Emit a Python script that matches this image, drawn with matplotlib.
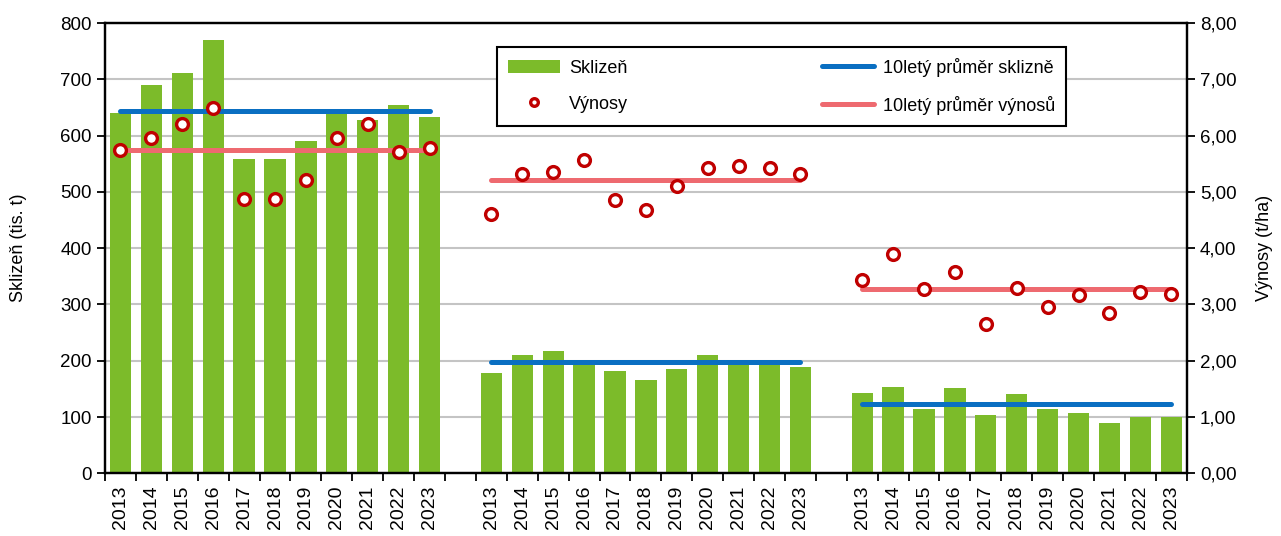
import numpy as np
import matplotlib
matplotlib.use("Agg")
import matplotlib.pyplot as plt
from matplotlib.ticker import FuncFormatter
from matplotlib.lines import Line2D

plt.rcParams["font.family"] = ["Liberation Sans", "DejaVu Sans"]

# data (three crops, 2013-2023 each)
years = [str(y) for y in range(2013, 2024)]
harvest = [
    [640, 690, 712, 769, 558, 558, 590, 640, 627, 654, 633],
    [179, 211, 218, 195, 182, 165, 186, 211, 193, 193, 189],
    [143, 154, 115, 151, 104, 140, 115, 107, 90, 100, 100],
]
yields = [
    [5.75, 5.96, 6.21, 6.49, 4.88, 4.88, 5.21, 5.96, 6.21, 5.71, 5.78],
    [4.61, 5.32, 5.35, 5.57, 4.85, 4.68, 5.10, 5.43, 5.46, 5.43, 5.32],
    [3.43, 3.89, 3.27, 3.58, 2.66, 3.30, 2.96, 3.16, 2.84, 3.23, 3.18],
]
avg_harvest = [644, 197, 124]
avg_yield = [5.75, 5.22, 3.27]

green = "#7cbb2a"
blue = "#0a6fc2"
pink = "#ee6a70"
dark_red = "#c00000"

fig = plt.figure(figsize=(12.81, 5.36), dpi=100)
ax = fig.add_axes([0.082, 0.117, 0.8444, 0.840])
ax2 = ax.twinx()

n = len(years)
labels_all, pos_all = [], []
for g in range(3):
    x = np.arange(n) + g * (n + 1)
    bars = ax.bar(x, harvest[g], width=0.69, color=green, zorder=2)
    ln_h, = ax.plot([x[0], x[-1]], [avg_harvest[g]] * 2, color=blue, lw=3.6,
                    solid_capstyle="round", zorder=3)
    ln_y, = ax2.plot([x[0], x[-1]], [avg_yield[g]] * 2, color=pink, lw=3.6,
                     solid_capstyle="round", zorder=2)
    ax2.plot(x, yields[g], ls="none", marker="o", ms=8.5, mfc="white",
             mec=dark_red, mew=2.4, zorder=3)
    labels_all += years
    pos_all += list(x)

total = 3 * n + 2
ax.set_xlim(-0.5, total - 0.5)
ax.set_ylim(0, 800)
ax2.set_ylim(0, 8)
ax.set_yticks(np.arange(0, 801, 100))
ax2.set_yticks(np.arange(0, 8.01, 1))
ax2.yaxis.set_major_formatter(FuncFormatter(lambda v, p: f"{v:.2f}".replace(".", ",")))

ax.set_xticks(np.arange(-0.5, total, 1))
ax.set_xticklabels([])
ax.set_xticks(pos_all, minor=True)
ax.set_xticklabels(labels_all, minor=True, rotation=90, fontsize=14)
ax.tick_params(axis="x", which="minor", length=0, pad=9)
ax.tick_params(axis="x", which="major", length=6, width=1.3, direction="out")
ax.tick_params(axis="y", labelsize=13.5, length=6, width=1.3)
ax2.tick_params(axis="y", labelsize=13.5, length=6, width=1.3)

ax.grid(axis="y", color="#c4c4c4", lw=1.5, zorder=0)
ax.set_axisbelow(True)
for a in (ax, ax2):
    for s in a.spines.values():
        s.set_linewidth(1.6)
        s.set_color("black")

ax.set_ylabel("Sklizeň (tis. t)", fontsize=13, labelpad=24)
ax2.set_ylabel("Výnosy (t/ha)", fontsize=13, rotation=90, labelpad=14)

mk = Line2D([], [], ls="none", marker="o", ms=5.5, mfc="white", mec=dark_red, mew=2.4)
handles = [bars, mk, ln_h, ln_y]
order = ["Sklizeň", "Výnosy", "10letý průměr sklizně", "10letý průměr výnosů"]
leg = ax2.legend(handles, order, ncol=2, mode="expand",
                 loc="upper left", fontsize=13, frameon=True, fancybox=False,
                 edgecolor="black", framealpha=1, handlelength=2.9,
                 handletextpad=0.5, handleheight=0.8, borderpad=0.6,
                 labelspacing=1.05, borderaxespad=0,
                 bbox_to_anchor=(497 / 1281, 1 - 126 / 536, 569 / 1281, 79 / 536),
                 bbox_transform=fig.transFigure)
leg.get_frame().set_linewidth(1.5)

fig.savefig("out.png", dpi=100)
